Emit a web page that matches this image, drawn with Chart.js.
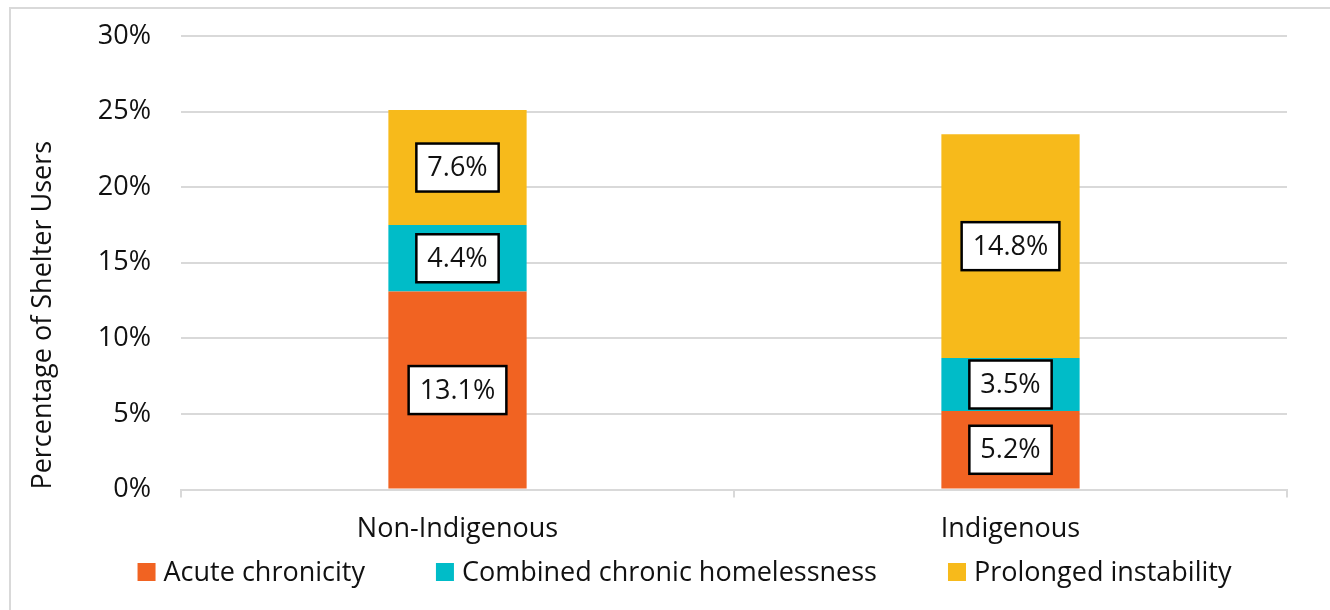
<!DOCTYPE html>
<html>
<head>
<meta charset="utf-8">
<script src="https://cdn.jsdelivr.net/npm/chart.js@4/dist/chart.umd.min.js"></script>
<style>
  html, body { margin: 0; padding: 0; background: #fff; overflow: hidden; }
  /* outer frame, only top and left edges fall inside the window */
  #frame {
    position: absolute; left: 9px; top: 7px; width: 1400px; height: 700px;
    border-top: 2px solid #d9d9d9; border-left: 2px solid #d9d9d9;
  }
  #wrap { position: absolute; left: 0; top: 0; width: 1330px; height: 610px; }
</style>
</head>
<body>
<div id="frame"></div>
<div id="wrap"><canvas id="myChart" width="1330" height="610"></canvas></div>
<script>
// groups on the x axis
const groups = ['Non-Indigenous', 'Indigenous'];

// share of shelter users, percent
const acuteChronicity = [13.1, 5.2];
const combinedChronic = [4.4, 3.5];
const prolongedInstability = [7.6, 14.8];

const seriesNames = ['Acute chronicity', 'Combined chronic homelessness', 'Prolonged instability'];
const seriesColors = ['#F16322', '#00BCC8', '#F7BA1B'];

// y axis: 0% .. 30% by 5
const yMin = 0;
const yMax = 30;
const yStep = 5;

const FONT = "'Open Sans', sans-serif";
const FONT_SIZE = 27;
Chart.defaults.font.family = FONT;
Chart.defaults.font.size = FONT_SIZE;
Chart.defaults.color = '#111';

// white boxed value labels centred in each segment
const boxLabels = {
  id: 'boxLabels',
  afterDatasetsDraw(chart) {
    const ctx = chart.ctx;
    ctx.save();
    ctx.font = FONT_SIZE + 'px ' + FONT;
    ctx.textAlign = 'center';
    ctx.textBaseline = 'middle';
    chart.data.datasets.forEach((ds, i) => {
      const meta = chart.getDatasetMeta(i);
      meta.data.forEach((bar, j) => {
        const text = ds.data[j].toFixed(1) + '%';
        const cx = bar.x;
        const cy = (bar.y + bar.base) / 2;
        const w = ctx.measureText(text).width + 22;
        const h = 48;
        ctx.fillStyle = '#fff';
        ctx.fillRect(cx - w / 2, cy - h / 2, w, h);
        ctx.lineWidth = 2.5;
        ctx.strokeStyle = '#000';
        ctx.strokeRect(cx - w / 2, cy - h / 2, w, h);
        ctx.fillStyle = '#111';
        ctx.fillText(text, cx, cy + 1);
      });
    });
    ctx.restore();
  }
};

// legend row under the axis labels
const bottomLegend = {
  id: 'bottomLegend',
  afterDraw(chart) {
    const ctx = chart.ctx;
    const box = 18, gap = 8, spacing = 71;
    const y = 572;
    ctx.save();
    ctx.font = FONT_SIZE + 'px ' + FONT;
    ctx.textBaseline = 'middle';
    ctx.textAlign = 'left';
    const widths = chart.data.datasets.map(ds => box + gap + ctx.measureText(ds.label).width);
    const total = widths.reduce((a, b) => a + b, 0) + spacing * (widths.length - 1);
    let x = 684.5 - total / 2;
    chart.data.datasets.forEach((ds, i) => {
      ctx.fillStyle = ds.backgroundColor;
      ctx.fillRect(x, y - box / 2, box, box);
      ctx.fillStyle = '#111';
      ctx.fillText(ds.label, x + box + gap, y + 1);
      x += widths[i] + spacing;
    });
    ctx.restore();
  }
};

const seriesData = [acuteChronicity, combinedChronic, prolongedInstability];

const chartData = {
  labels: groups,
  datasets: seriesData.map((vals, i) => ({
    label: seriesNames[i],
    data: vals,
    backgroundColor: seriesColors[i],
    borderWidth: 0,
    categoryPercentage: 1,
    barPercentage: 0.25
  }))
};

const chartOptions = {
  responsive: false,
  animation: false,
  layout: { autoPadding: false, padding: { left: 0, right: 43, top: 36, bottom: 48 } },
  plugins: {
    legend: { display: false },
    tooltip: { enabled: false }
  },
  scales: {
    x: {
      stacked: true,
      offset: true,
      grid: { display: true, drawOnChartArea: false, offset: true, color: '#d9d9d9', lineWidth: 2, tickLength: 8 },
      border: { display: true, color: '#d9d9d9', width: 2 },
      ticks: { padding: 16, color: '#111' }
    },
    y: {
      stacked: true,
      min: yMin,
      max: yMax,
      ticks: { stepSize: yStep, padding: 30, color: '#111', callback: v => v + '%' },
      grid: { color: '#d9d9d9', lineWidth: 2, drawTicks: false },
      border: { display: false },
      title: {
        display: true,
        text: 'Percentage of Shelter Users',
        align: 'start',
        color: '#111',
        font: { size: FONT_SIZE, lineHeight: 1.2 },
        padding: { top: 27, bottom: 0 }
      },
      afterFit(scale) {
        scale.width = 181;
        // keep the plot edges where the layout padding puts them
        scale.paddingTop = 0;
        scale.paddingBottom = 0;
      }
    }
  }
};

const ctx = document.getElementById('myChart').getContext('2d');
new Chart(ctx, {
  type: 'bar',
  data: chartData,
  options: chartOptions,
  plugins: [boxLabels, bottomLegend]
});
</script>
</body>
</html>
